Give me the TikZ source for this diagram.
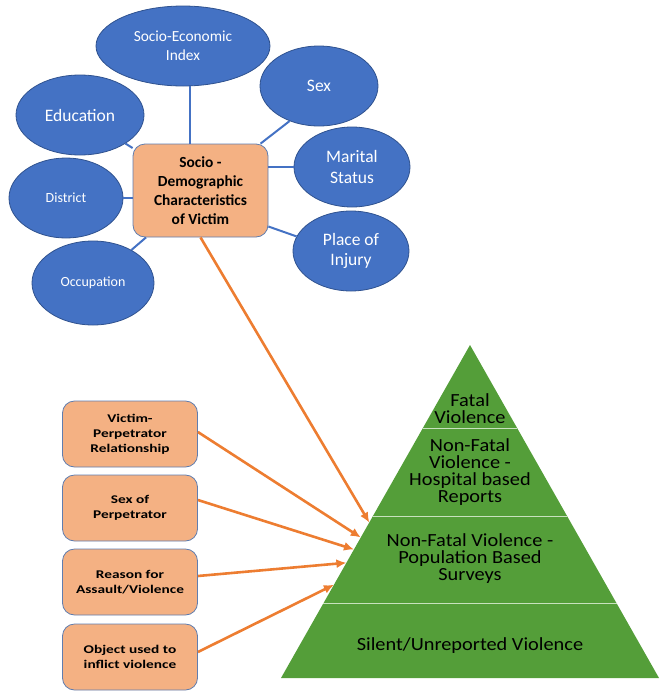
\documentclass[tikz,border=0pt]{standalone}
\usepackage{fontspec}
\setmainfont{Carlito}
\newfontfamily\factorfont[FakeStretch=1.3]{Carlito}
\newfontfamily\layerfont[FakeStretch=1.1]{Carlito}
\usepackage{xcolor}
\usepackage{tikz}
\usetikzlibrary{shapes.geometric}
\usetikzlibrary{arrows.meta}
\usetikzlibrary{calc}

\definecolor{bubblefill}{RGB}{68,114,196}
\definecolor{bubbleline}{RGB}{47,82,143}
\definecolor{peach}{RGB}{244,177,131}
\definecolor{boxline}{RGB}{95,125,175}
\definecolor{feedorange}{RGB}{237,125,49}
\definecolor{pyrgreen}{RGB}{84,158,57}
\definecolor{pyrline}{RGB}{200,226,190}

\tikzset{
    bubble/.style={ellipse, fill=bubblefill, draw=bubbleline, line width=0.8pt,
        text=white, inner sep=0pt, align=center},
    bigtext/.style={font=\fontsize{17.5}{20.5}\selectfont},
    smalltext/.style={font=\fontsize{14}{17}\selectfont},
    hubbox/.style={rectangle, rounded corners=12pt, fill=peach, draw=boxline,
        line width=0.8pt, align=center, minimum width=135pt, minimum height=93pt,
        font=\bfseries\fontsize{15.4}{19}\selectfont},
    factorbox/.style={rectangle, rounded corners=12pt, fill=peach, draw=boxline,
        line width=0.8pt, align=center, minimum width=135pt, minimum height=66pt,
        font=\factorfont\bfseries\fontsize{11.8}{15}\selectfont},
    link/.style={draw=bubblefill, line width=2pt},
    feed/.style={draw=feedorange, line width=2.6pt, -{Latex[length=10pt, width=9pt]}},
    layer/.style={align=center, font=\layerfont\fontsize{18.5}{17}\selectfont}
}

\begin{document}
\begin{tikzpicture}[x=1pt, y=-1pt]
        \useasboundingbox (0, 0) rectangle (659, 691);

        % victim characteristics
        \node[hubbox] (hub) at (200.5, 190.5) {Socio -\\Demographic\\Characteristics\\of Victim};

        \node[bubble, minimum width=174pt, minimum height=80pt,
            font=\fontsize{15.4}{19}\selectfont] (econ) at (183, 46) {Socio-Economic\\Index};
        \node[bubble, bigtext, minimum width=118pt, minimum height=80pt] (sex) at (319, 86) {Sex};
        \node[bubble, bigtext, minimum width=128pt, minimum height=80pt] (edu) at (80, 115) {Education};
        \node[bubble, bigtext, minimum width=116pt, minimum height=80pt] (marital) at (352, 167) {Marital\\Status};
        \node[bubble, smalltext, minimum width=114pt, minimum height=80pt] (district) at (66, 198) {District};
        \node[bubble, bigtext, minimum width=116pt, minimum height=80pt] (injury) at (351, 251) {Place of\\Injury};
        \node[bubble, smalltext, minimum width=122pt, minimum height=84pt] (occup) at (93, 283) {Occupation};

        \draw[link] (econ.-80) -- (econ.-80 |- hub.north);
        \draw[link] (sex.230) -- (hub.38);
        \draw[link] (edu) -- (hub);
        \draw[link] (marital.west) -- (marital.west -| hub.east);
        \draw[link] (district.east) -- (district.east -| hub.west);
        \draw[link] (occup) -- (hub);
        \draw[link] (injury.165) -- ([yshift=-36pt]hub.east);

        % pyramid
        \coordinate (apex) at (470, 345);
        \coordinate (baseL) at (281, 678);
        \coordinate (baseR) at (659, 678);
        \fill[pyrgreen] (apex) -- (baseR) -- (baseL) -- cycle;
        \foreach \t in {0.25, 0.515, 0.777}
            \draw[pyrline, line width=1.2pt] ($(apex)!\t!(baseL)$) -- ($(apex)!\t!(baseR)$);

        \node[layer] (fatal) at (470, 409) {Fatal\\Violence};
        \node[layer] (hospital) at (470, 472) {Non-Fatal\\Violence -\\Hospital based\\Reports};
        \node[layer] (survey) at (470, 559) {Non-Fatal Violence -\\Population Based\\Surveys};
        \node[layer] (silent) at (470, 646) {Silent/Unreported Violence};

        % perpetrator factors
        \node[factorbox] (vp) at (130, 434) {Victim-\\Perpetrator\\Relationship};
        \node[factorbox] (sexp) at (130, 508) {Sex of\\Perpetrator};
        \node[factorbox] (reason) at (130, 582) {Reason for\\Assault/Violence};
        \node[factorbox] (object) at (130, 657) {Object used to\\inflict violence};

        \coordinate (inHub) at ($(apex)!0.533!(baseL)$);
        \coordinate (inVP) at ($(apex)!0.578!(baseL)$);
        \coordinate (inSex) at ($(apex)!0.614!(baseL)$);
        \coordinate (inReason) at ($(apex)!0.654!(baseL)$);
        \coordinate (inObject) at ($(apex)!0.72!(baseL)$);

        \draw[feed] (hub.south) -- (inHub);
        \draw[feed] ([yshift=2pt]vp.east) -- (inVP);
        \draw[feed] ([yshift=8pt]sexp.east) -- (inSex);
        \draw[feed] ([yshift=6pt]reason.east) -- (inReason);
        \draw[feed] ([yshift=5pt]object.east) -- (inObject);
    \end{tikzpicture}
\end{document}
